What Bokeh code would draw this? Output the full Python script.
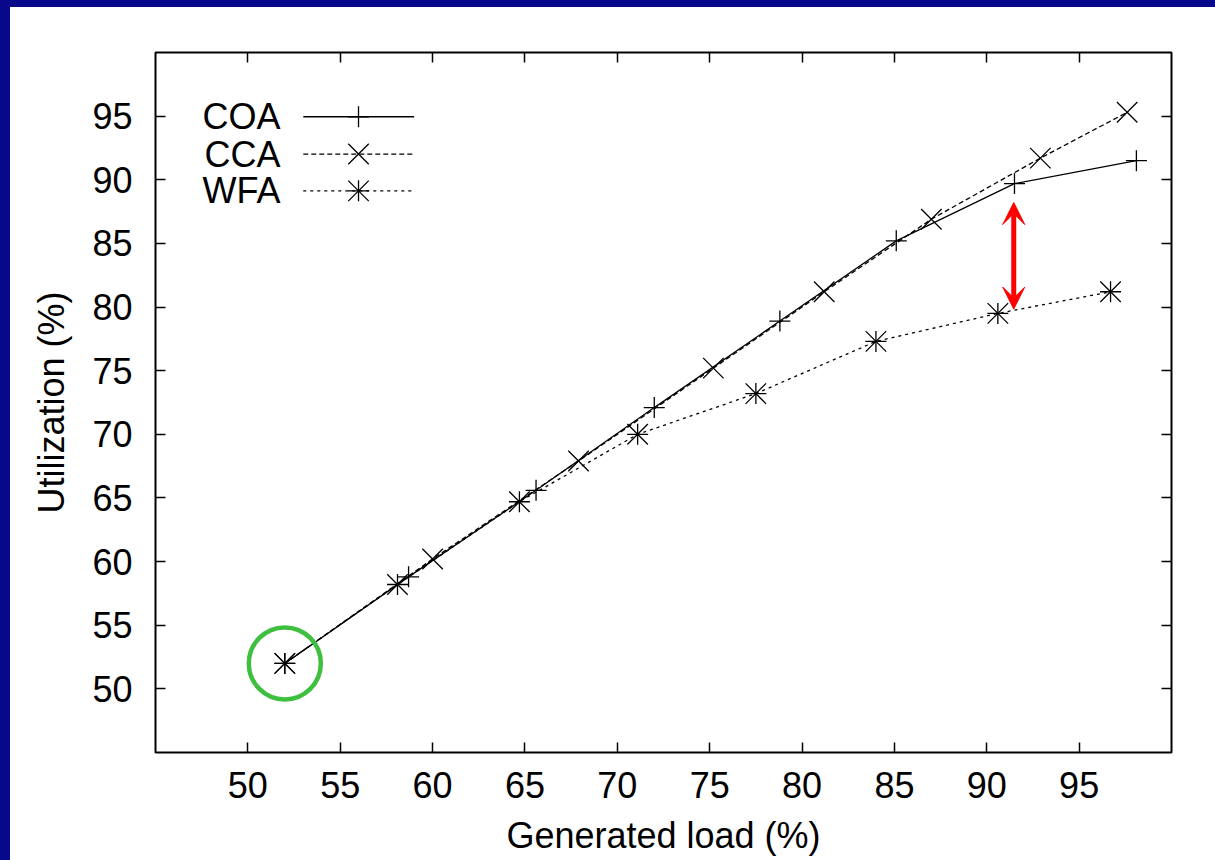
from bokeh.plotting import figure
from bokeh.models import Range1d, LinearAxis, FixedTicker, Arrow, VeeHead, Div
from bokeh.layouts import column, row
from bokeh.core.properties import value
from bokeh.embed import file_html
from bokeh.resources import INLINE

# ---- data ----
SERIES = ["COA", "CCA", "WFA"]
COA_X = [52.0, 58.7, 65.6, 72.0, 78.8, 85.1, 91.5, 98.1]
COA_Y = [52.0, 58.8, 65.6, 72.1, 78.9, 85.2, 89.7, 91.5]
CCA_X = [52.0, 60.0, 67.9, 75.2, 81.2, 87.0, 92.9, 97.6]
CCA_Y = [52.0, 60.2, 67.9, 75.2, 81.2, 86.9, 91.7, 95.3]
WFA_X = [52.0, 58.1, 64.7, 71.1, 77.5, 84.0, 90.6, 96.7]
WFA_Y = [52.0, 58.2, 64.7, 70.0, 73.2, 77.3, 79.5, 81.2]
X_TICKS = [50, 55, 60, 65, 70, 75, 80, 85, 90, 95]
Y_TICKS = [50, 55, 60, 65, 70, 75, 80, 85, 90, 95]
X_LABEL = "Generated load (%)"
Y_LABEL = "Utilization (%)"
# annotations
HILITE = (52.0, 52.0)          # green circle
GAP_X = 91.46                  # red double arrow
GAP_Y0, GAP_Y1 = 79.84, 88.21

NAVY = "#08088c"
GREEN = "#3fbf3f"
FONT = "Liberation Sans"
FS = "36px"

FIG_W, FIG_H = 1205, 853
p = figure(width=FIG_W, height=FIG_H, output_backend="svg", toolbar_location=None,
           x_range=Range1d(45, 100), y_range=Range1d(45, 100),
           min_border_left=145, min_border_right=44, min_border_top=45,
           min_border_bottom=108, background_fill_color="white",
           border_fill_color="white")
p.grid.visible = False
p.outline_line_color = "black"
p.outline_line_width = 2

def style_axis(ax, labels=True):
    ax.axis_line_color = None
    ax.major_tick_in = 10
    ax.major_tick_out = 0
    ax.major_tick_line_width = 1.5
    ax.major_tick_line_color = "black"
    ax.minor_tick_line_color = None
    ax.major_label_text_font = FONT
    ax.axis_label_text_font = FONT
    ax.axis_label_text_font_style = "normal"
    ax.axis_label_text_font_size = FS
    ax.axis_label_text_color = "black"
    if labels:
        ax.major_label_text_font_size = FS
        ax.major_label_text_color = "black"
    else:
        ax.major_label_text_font_size = "1px"
        ax.major_label_text_color = None
        ax.major_label_standoff = 0

p.xaxis.ticker = FixedTicker(ticks=X_TICKS)
p.yaxis.ticker = FixedTicker(ticks=Y_TICKS)
p.xaxis.axis_label = X_LABEL
p.yaxis.axis_label = Y_LABEL
style_axis(p.xaxis[0])
style_axis(p.yaxis[0])
p.xaxis.major_label_standoff = 19
p.xaxis.axis_label_standoff = 14
p.yaxis.major_label_standoff = 23
p.yaxis.axis_label_standoff = 17

top_ax = LinearAxis(ticker=FixedTicker(ticks=X_TICKS))
right_ax = LinearAxis(ticker=FixedTicker(ticks=Y_TICKS))
style_axis(top_ax, labels=False)
style_axis(right_ax, labels=False)
p.add_layout(top_ax, "above")
p.add_layout(right_ax, "right")

LW = 1.3
MS = 21          # '+' extent in px
MSX = 29         # 'x' marker is drawn smaller than its size in Bokeh
# series lines
p.line(COA_X, COA_Y, line_color="black", line_width=LW)
p.line(CCA_X, CCA_Y, line_color="black", line_width=LW, line_dash="5 3")
p.line(WFA_X, WFA_Y, line_color="black", line_width=LW, line_dash="3 4")
# markers
p.scatter(COA_X, COA_Y, marker="cross", size=MS, line_color="black", line_width=LW)
p.scatter(CCA_X, CCA_Y, marker="x", size=MSX, line_color="black", line_width=LW)
p.scatter(WFA_X, WFA_Y, marker="cross", size=MS, line_color="black", line_width=LW)
p.scatter(WFA_X, WFA_Y, marker="x", size=MSX, line_color="black", line_width=LW)

# legend (text left of sample, gnuplot style)
LEG_TEXT_X = 51.77
LEG_X0, LEG_X1, LEG_MX = 53.0, 59.0, 55.99
LEG_Y = [94.95, 92.02, 89.13]
dashes = ["solid", "5 3", "3 4"]
p.text(x=[LEG_TEXT_X] * 3, y=LEG_Y, text=SERIES,
       text_font=value(FONT), text_font_size=value(FS), text_color="black",
       text_align="right", text_baseline="alphabetic")
for yy, d in zip(LEG_Y, dashes):
    p.segment(x0=[LEG_X0], y0=[yy], x1=[LEG_X1], y1=[yy], line_color="black",
              line_width=LW, line_dash=d)
p.scatter([LEG_MX], [LEG_Y[0]], marker="cross", size=MS, line_color="black", line_width=LW)
p.scatter([LEG_MX], [LEG_Y[1]], marker="x", size=MSX, line_color="black", line_width=LW)
p.scatter([LEG_MX], [LEG_Y[2]], marker="cross", size=MS, line_color="black", line_width=LW)
p.scatter([LEG_MX], [LEG_Y[2]], marker="x", size=MSX, line_color="black", line_width=LW)

# highlight circle
p.scatter([HILITE[0]], [HILITE[1]], marker="circle", size=72, fill_color=None,
          line_color=GREEN, line_width=4.5)

# red double arrow
p.add_layout(Arrow(start=VeeHead(size=22, fill_color="red", line_color="red", line_width=1),
                   end=VeeHead(size=22, fill_color="red", line_color="red", line_width=1),
                   x_start=GAP_X, y_start=GAP_Y0, x_end=GAP_X, y_end=GAP_Y1,
                   line_color="red", line_width=5))

strip_top = Div(text="", width=10 + FIG_W, height=7, margin=0,
                styles={"background-color": NAVY})
strip_left = Div(text="", width=10, height=FIG_H, margin=0,
                 styles={"background-color": NAVY})
layout = column(strip_top, row(strip_left, p, spacing=0), spacing=0)

open("out.html", "w").write(file_html(layout, INLINE))
